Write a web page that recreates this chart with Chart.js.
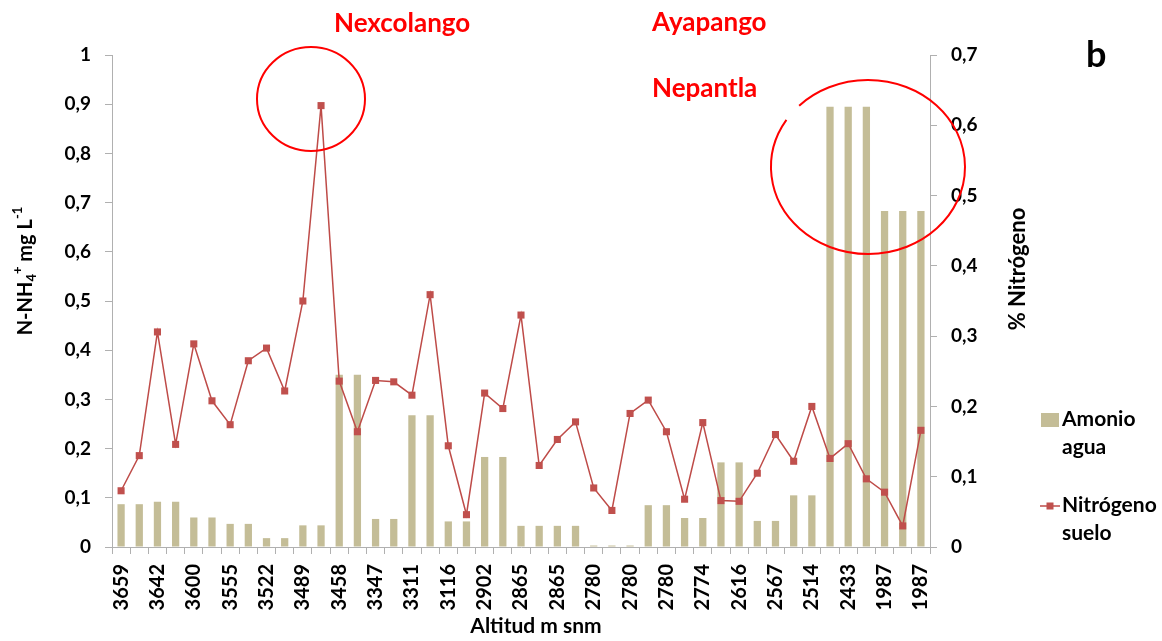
<!DOCTYPE html>
<html>
<head>
<meta charset="utf-8">
<script src="https://cdn.jsdelivr.net/npm/chart.js@4.4.0/dist/chart.umd.min.js"></script>
<style>
  html, body { margin: 0; padding: 0; background: #fff; }
  #wrap { width: 1162px; height: 641px; }
</style>
</head>
<body>
<div id="wrap"><canvas id="chart"></canvas></div>
<script>
// categories: altitude (m snm), only every other one is labelled on the axis
const categories = [
  '3659', '', '3642', '', '3600', '', '3555', '', '3522', '', '3489', '',
  '3458', '', '3347', '', '3311', '', '3116', '', '2902', '', '2865', '',
  '2865', '', '2780', '', '2780', '', '2780', '', '2774', '', '2616', '',
  '2567', '', '2514', '', '2433', '', '1987', '', '1987'
];

// N-NH4+ mg L-1 (left axis)
const amonioAgua = [
  0.087, 0.087, 0.092, 0.092, 0.060, 0.060, 0.047, 0.047, 0.018, 0.018,
  0.044, 0.044, 0.350, 0.350, 0.057, 0.057, 0.268, 0.268, 0.052, 0.052,
  0.183, 0.183, 0.043, 0.043, 0.043, 0.043, 0.003, 0.003, 0.003, 0.085,
  0.085, 0.059, 0.059, 0.172, 0.172, 0.053, 0.053, 0.105, 0.105, 0.895,
  0.895, 0.895, 0.683, 0.683, 0.683
];

// % Nitrogeno (right axis)
const nitrogenoSuelo = [
  0.080, 0.130, 0.306, 0.146, 0.289, 0.208, 0.174, 0.265, 0.283, 0.222,
  0.350, 0.628, 0.236, 0.164, 0.237, 0.235, 0.216, 0.359, 0.144, 0.046,
  0.219, 0.197, 0.330, 0.116, 0.153, 0.178, 0.084, 0.052, 0.190, 0.209,
  0.164, 0.068, 0.177, 0.066, 0.065, 0.105, 0.160, 0.122, 0.200, 0.126,
  0.147, 0.097, 0.078, 0.030, 0.166
];

const siteLabels = ['Nexcolango', 'Ayapango', 'Nepantla'];

const BAR_COLOR = '#c4bd97';
const LINE_COLOR = '#be4b48';
const AXIS_COLOR = '#b0b0b0';
const FONT = 'Lato';

Chart.defaults.font.family = FONT;
Chart.defaults.color = '#000';

const fmt = (v) => String(Number(v.toFixed(1))).replace('.', ',');

function drawRich(ctx, parts, cx, cy, rot) {
  ctx.save();
  ctx.translate(cx, cy);
  ctx.rotate(rot);
  let total = 0;
  parts.forEach((p) => {
    ctx.font = `bold ${p.size}px ${FONT}`;
    p.w = ctx.measureText(p.text).width;
    total += p.w;
  });
  let x = -total / 2;
  ctx.textAlign = 'left';
  ctx.textBaseline = 'middle';
  parts.forEach((p) => {
    ctx.font = `bold ${p.size}px ${FONT}`;
    ctx.fillText(p.text, x, p.dy || 0);
    x += p.w;
  });
  ctx.restore();
}

const extras = {
  id: 'extras',
  afterDraw(chart) {
    const ctx = chart.ctx;
    ctx.save();
    ctx.fillStyle = '#000';

    // axis titles
    drawRich(ctx, [
      { text: 'N-NH', size: 20 },
      { text: '4', size: 13, dy: 6 },
      { text: '+', size: 13, dy: -8 },
      { text: ' mg L', size: 20 },
      { text: '-1', size: 13, dy: -8 }
    ], 26, 271, -Math.PI / 2);
    drawRich(ctx, [{ text: '% Nitrógeno', size: 22 }], 1018, 269, -Math.PI / 2);
    drawRich(ctx, [{ text: 'Altitud m snm', size: 21 }], 536, 626, 0);

    // panel letter
    ctx.font = `bold 36px ${FONT}`;
    ctx.textAlign = 'left';
    ctx.textBaseline = 'alphabetic';
    ctx.fillText('b', 1086, 67);

    // site names
    ctx.fillStyle = '#ff0000';
    ctx.font = `bold 26px ${FONT}`;
    ctx.fillText(siteLabels[0], 334, 32);
    ctx.fillText(siteLabels[1], 652, 31);
    ctx.fillText(siteLabels[2], 652, 97);

    // circles
    ctx.strokeStyle = '#ff0000';
    ctx.lineWidth = 2;
    ctx.beginPath();
    ctx.ellipse(311, 99, 54, 52, 0, 0, Math.PI * 2);
    ctx.stroke();
    ctx.beginPath();
    ctx.ellipse(868, 167, 97, 87, 0, -2.36, Math.PI * 2 - 2.57);
    ctx.stroke();

    // legend
    ctx.fillStyle = BAR_COLOR;
    ctx.fillRect(1041, 413, 18, 14);
    ctx.strokeStyle = LINE_COLOR;
    ctx.lineWidth = 1.5;
    ctx.beginPath();
    ctx.moveTo(1040, 506);
    ctx.lineTo(1060, 506);
    ctx.stroke();
    ctx.fillStyle = '#c0504d';
    ctx.fillRect(1046.5, 502.5, 7, 7);

    ctx.fillStyle = '#000';
    ctx.font = `bold 21px ${FONT}`;
    ctx.textBaseline = 'middle';
    ctx.fillText('Amonio', 1062, 419);
    ctx.fillText('agua', 1062, 447);
    ctx.fillText('Nitrógeno', 1062, 505);
    ctx.fillText('suelo', 1062, 533);
    ctx.restore();
  }
};

new Chart(document.getElementById('chart'), {
  type: 'bar',
  data: {
    labels: categories,
    datasets: [
      {
        type: 'line',
        label: 'Nitrógeno suelo',
        data: nitrogenoSuelo,
        yAxisID: 'y1',
        borderColor: LINE_COLOR,
        borderWidth: 1.5,
        pointStyle: 'rect',
        pointRadius: 5,
        pointBackgroundColor: '#c0504d',
        pointBorderColor: '#c0504d',
        pointBorderWidth: 0,
        tension: 0,
        order: 0
      },
      {
        label: 'Amonio agua',
        data: amonioAgua,
        yAxisID: 'y',
        backgroundColor: BAR_COLOR,
        barPercentage: 0.4,
        categoryPercentage: 1,
        order: 1
      }
    ]
  },
  options: {
    responsive: true,
    maintainAspectRatio: false,
    animation: false,
    layout: { padding: { top: 55, left: 0, right: 0, bottom: 0 } },
    plugins: {
      legend: { display: false },
      tooltip: { enabled: false }
    },
    scales: {
      x: {
        grid: {
          display: true,
          drawOnChartArea: false,
          color: AXIS_COLOR,
          tickLength: 7,
          offset: true
        },
        border: { color: AXIS_COLOR },
        ticks: {
          autoSkip: false,
          minRotation: 90,
          maxRotation: 90,
          padding: 10,
          font: { size: 20, weight: 'bold' }
        },
        afterFit: (s) => { s.height = 94; }
      },
      y: {
        position: 'left',
        min: 0,
        max: 1,
        grid: { drawOnChartArea: false, color: AXIS_COLOR, tickLength: 7 },
        border: { color: AXIS_COLOR },
        ticks: {
          stepSize: 0.1,
          padding: 14,
          font: { size: 19, weight: 'bold' },
          callback: (v) => fmt(v)
        },
        afterFit: (s) => { s.width = 112; }
      },
      y1: {
        position: 'right',
        min: 0,
        max: 0.7,
        grid: { drawOnChartArea: false, color: AXIS_COLOR, tickLength: 7 },
        border: { color: AXIS_COLOR },
        ticks: {
          stepSize: 0.1,
          padding: 14,
          font: { size: 19, weight: 'bold' },
          callback: (v) => fmt(v)
        },
        afterFit: (s) => { s.width = 232; }
      }
    }
  },
  plugins: [extras]
});
</script>
</body>
</html>
